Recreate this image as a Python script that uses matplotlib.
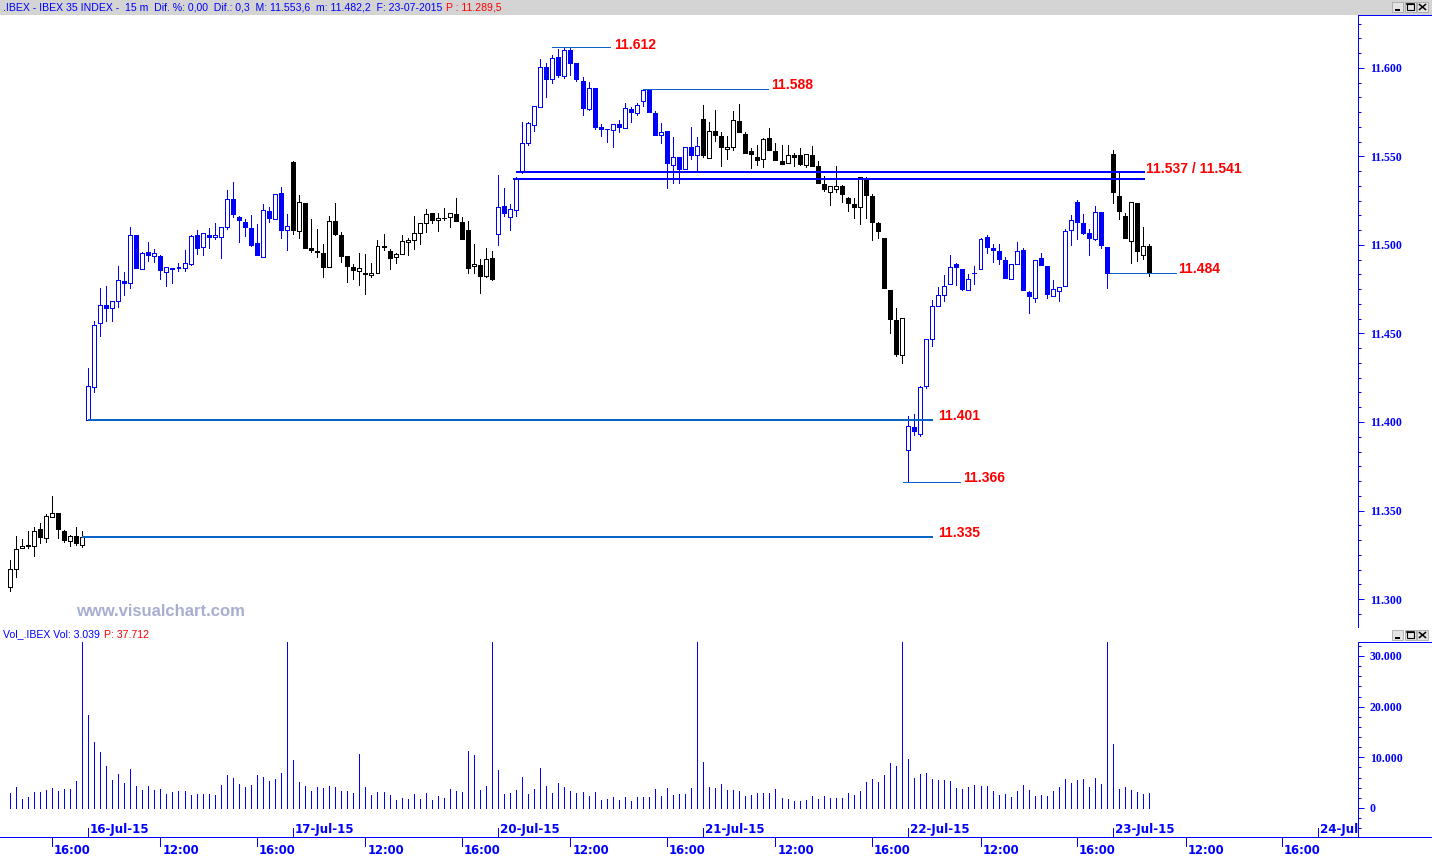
import matplotlib
matplotlib.use("Agg")
import matplotlib.pyplot as plt
import matplotlib.transforms as mtransforms
from matplotlib.lines import Line2D
from matplotlib.patches import Rectangle
from matplotlib.ticker import MultipleLocator

# ---------------- 15-minute IBEX 35 bars: (open, high, low, close) ----------------
jul15 = [
    (11306.6, 11322.0, 11304.7, 11316.7), (11316.7, 11335.6, 11312.6, 11328.0),
    (11328.6, 11333.7, 11328.6, 11329.7), (11330.8, 11338.4, 11328.6, 11330.1),
    (11329.7, 11340.5, 11324.1, 11338.2), (11339.3, 11342.7, 11331.4, 11334.8),
    (11334.2, 11347.8, 11332.0, 11346.7), (11346.1, 11358.2, 11346.1, 11348.4),
    (11348.4, 11348.4, 11334.2, 11339.3), (11338.2, 11338.8, 11332.0, 11333.1),
    (11332.5, 11335.9, 11329.7, 11335.4), (11335.4, 11340.5, 11330.3, 11331.4),
    (11330.3, 11338.2, 11329.2, 11335.0),
]
jul16 = [
    (11401.0, 11430.3, 11401.0, 11420.3), (11419.5, 11457.2, 11417.1, 11454.8),
    (11456.1, 11475.7, 11448.7, 11465.9), (11466.1, 11476.8, 11457.2, 11464.5),
    (11464.2, 11468.3, 11457.2, 11468.3), (11468.1, 11488.1, 11465.1, 11480.0),
    (11479.6, 11484.7, 11471.9, 11478.7), (11478.7, 11510.1, 11475.8, 11505.4),
    (11505.4, 11505.4, 11487.1, 11487.1), (11486.2, 11495.8, 11486.2, 11495.2),
    (11495.8, 11501.5, 11490.9, 11494.1), (11493.5, 11497.5, 11490.5, 11495.2),
    (11493.5, 11494.1, 11480.9, 11486.0), (11484.9, 11487.3, 11477.0, 11487.3),
    (11486.8, 11486.8, 11478.7, 11486.4), (11486.8, 11489.6, 11485.5, 11487.3),
    (11487.1, 11497.1, 11485.5, 11489.6), (11489.4, 11505.6, 11488.8, 11504.8),
    (11505.4, 11508.2, 11495.1, 11498.4), (11498.6, 11506.5, 11494.5, 11506.5),
    (11505.4, 11509.6, 11498.4, 11504.7), (11504.3, 11512.2, 11503.5, 11505.4),
    (11504.3, 11509.9, 11492.8, 11509.9), (11509.9, 11530.8, 11509.2, 11525.8),
    (11525.8, 11535.4, 11515.6, 11517.3), (11515.6, 11516.1, 11501.8, 11513.9),
    (11512.8, 11514.5, 11504.8, 11509.9), (11509.6, 11516.7, 11499.2, 11500.1),
    (11500.9, 11511.6, 11494.1, 11494.1), (11493.0, 11522.9, 11493.0, 11519.5),
    (11519.0, 11521.2, 11512.8, 11515.0), (11514.5, 11528.6, 11514.5, 11528.6),
    (11529.1, 11532.5, 11503.7, 11508.2), (11508.2, 11517.3, 11496.9, 11510.5),
]
jul17 = [
    (11546.8, 11547.5, 11506.0, 11508.2), (11507.7, 11528.0, 11503.7, 11524.1),
    (11523.5, 11523.5, 11498.4, 11498.4), (11498.1, 11514.5, 11496.2, 11497.1),
    (11496.6, 11508.8, 11493.0, 11496.0), (11495.2, 11500.5, 11482.1, 11487.7),
    (11487.3, 11516.1, 11487.3, 11513.3), (11513.3, 11523.5, 11505.4, 11506.0),
    (11505.4, 11507.1, 11490.5, 11493.5), (11493.5, 11493.5, 11479.2, 11487.9),
    (11487.3, 11489.0, 11480.9, 11485.6), (11485.1, 11495.2, 11477.5, 11486.8),
    (11483.9, 11494.7, 11472.5, 11483.4), (11482.8, 11489.6, 11482.1, 11483.9),
    (11483.9, 11502.6, 11483.9, 11499.2), (11499.2, 11506.0, 11497.1, 11498.6),
    (11496.4, 11497.5, 11486.6, 11492.4), (11493.0, 11495.2, 11489.6, 11494.7),
    (11494.7, 11505.4, 11494.7, 11502.0), (11501.5, 11503.7, 11494.1, 11502.6),
    (11502.6, 11516.1, 11497.5, 11506.5), (11506.5, 11512.2, 11500.3, 11512.2),
    (11512.2, 11520.1, 11507.1, 11517.3), (11517.8, 11517.8, 11512.2, 11513.9),
    (11513.9, 11517.8, 11507.7, 11515.0), (11515.0, 11520.7, 11513.9, 11515.2),
    (11515.6, 11517.8, 11509.9, 11517.8), (11517.3, 11526.3, 11513.3, 11513.3),
    (11512.8, 11515.6, 11503.1, 11503.1), (11508.2, 11513.3, 11483.9, 11486.8),
    (11487.9, 11500.3, 11483.9, 11489.0), (11488.5, 11491.9, 11473.0, 11482.3),
    (11482.3, 11498.1, 11481.7, 11491.9), (11492.4, 11496.4, 11480.4, 11480.9),
]
jul20 = [
    (11506.0, 11539.5, 11500.2, 11521.3), (11522.0, 11532.2, 11516.6, 11517.9),
    (11515.6, 11523.1, 11508.6, 11520.1), (11519.6, 11538.2, 11516.6, 11537.0),
    (11541.0, 11569.5, 11540.5, 11557.4), (11557.4, 11569.5, 11556.3, 11568.7),
    (11567.6, 11578.3, 11564.6, 11578.3), (11577.8, 11605.3, 11577.8, 11600.4),
    (11600.4, 11602.6, 11583.4, 11593.6), (11593.6, 11607.1, 11591.3, 11605.4),
    (11606.0, 11610.5, 11594.7, 11595.8), (11595.3, 11611.1, 11594.1, 11610.0),
    (11610.0, 11612.0, 11595.8, 11603.0), (11602.6, 11602.6, 11592.4, 11593.6),
    (11592.4, 11594.7, 11573.2, 11577.2), (11576.6, 11591.9, 11576.1, 11588.5),
    (11588.5, 11588.5, 11565.7, 11566.8), (11566.5, 11568.2, 11561.8, 11565.7),
    (11565.5, 11565.7, 11558.4, 11565.3), (11565.2, 11568.2, 11555.5, 11568.2),
    (11568.2, 11570.4, 11564.0, 11566.8), (11566.3, 11580.0, 11566.3, 11577.2),
    (11576.6, 11577.8, 11569.7, 11574.9), (11574.4, 11580.0, 11573.2, 11578.9),
    (11581.1, 11588.0, 11578.3, 11587.5), (11587.5, 11588.0, 11574.9, 11574.9),
    (11574.4, 11575.5, 11562.3, 11562.3), (11561.9, 11568.7, 11557.4, 11563.6),
    (11564.2, 11564.2, 11532.4, 11546.5), (11545.4, 11560.8, 11535.2, 11549.5),
    (11549.5, 11549.5, 11535.2, 11543.1), (11543.1, 11555.2, 11543.1, 11555.2),
    (11555.2, 11566.5, 11548.4, 11551.0), (11550.6, 11560.8, 11542.0, 11555.7),
]
jul21 = [
    (11571.0, 11578.9, 11549.5, 11550.6), (11549.0, 11569.3, 11549.0, 11564.2),
    (11564.2, 11576.1, 11558.6, 11562.3), (11561.4, 11563.6, 11544.4, 11555.2),
    (11554.0, 11561.4, 11548.4, 11555.3), (11555.2, 11575.5, 11553.5, 11570.4),
    (11569.8, 11579.5, 11563.6, 11563.6), (11562.5, 11563.6, 11551.8, 11551.8),
    (11552.9, 11554.6, 11543.3, 11551.2), (11549.5, 11556.3, 11545.0, 11547.8),
    (11548.4, 11560.2, 11544.2, 11559.7), (11560.2, 11565.9, 11553.5, 11553.5),
    (11552.9, 11557.4, 11547.8, 11547.8), (11547.2, 11556.3, 11545.6, 11545.6),
    (11546.1, 11556.3, 11546.1, 11550.6), (11550.6, 11551.8, 11544.4, 11549.5),
    (11550.6, 11554.6, 11545.0, 11545.6), (11545.0, 11551.2, 11543.9, 11551.2),
    (11550.6, 11555.7, 11544.4, 11544.4), (11544.4, 11547.2, 11534.8, 11534.8),
    (11534.3, 11538.8, 11530.3, 11531.4), (11529.7, 11533.1, 11522.8, 11533.1),
    (11531.4, 11544.4, 11529.7, 11533.1), (11533.1, 11533.7, 11524.1, 11528.6),
    (11526.3, 11526.9, 11519.0, 11523.5), (11523.0, 11526.3, 11515.0, 11521.3),
    (11521.3, 11538.2, 11511.7, 11538.2), (11537.6, 11538.2, 11515.0, 11528.0),
    (11527.5, 11528.6, 11502.6, 11512.8), (11512.2, 11512.8, 11503.7, 11507.7),
    (11503.7, 11503.7, 11475.5, 11475.5), (11474.4, 11474.4, 11450.1, 11458.0),
    (11457.4, 11464.2, 11437.1, 11438.2), (11437.7, 11458.5, 11433.1, 11458.5),
]
jul22 = [
    (11384.0, 11403.4, 11366.0, 11397.7), (11396.9, 11404.5, 11392.4, 11394.7),
    (11393.0, 11420.1, 11391.9, 11419.6), (11420.1, 11446.7, 11419.0, 11446.7),
    (11446.7, 11468.7, 11442.7, 11465.3), (11465.3, 11476.1, 11465.3, 11471.5),
    (11471.5, 11482.8, 11468.1, 11476.6), (11477.8, 11494.1, 11477.8, 11487.4),
    (11489.1, 11489.6, 11477.2, 11487.4), (11486.2, 11486.2, 11474.4, 11474.9),
    (11474.4, 11483.4, 11474.4, 11480.6), (11484.0, 11487.9, 11477.8, 11484.2),
    (11486.2, 11503.7, 11486.2, 11503.2), (11504.3, 11505.4, 11495.3, 11498.7),
    (11498.1, 11500.4, 11490.2, 11497.0), (11496.4, 11500.4, 11489.1, 11491.9),
    (11491.3, 11493.0, 11481.1, 11481.1), (11480.6, 11489.1, 11480.6, 11489.1),
    (11489.1, 11501.5, 11489.1, 11496.4), (11497.0, 11498.1, 11474.4, 11474.4),
    (11473.2, 11473.8, 11461.4, 11471.0), (11469.8, 11491.3, 11467.6, 11491.3),
    (11492.4, 11495.3, 11488.5, 11488.5), (11487.9, 11487.9, 11469.8, 11472.1),
    (11471.0, 11480.0, 11471.0, 11474.9), (11473.8, 11476.1, 11468.1, 11476.1),
    (11476.6, 11508.8, 11476.6, 11507.7), (11508.3, 11516.7, 11499.8, 11513.9),
    (11524.1, 11525.2, 11503.2, 11512.8), (11512.2, 11517.3, 11506.0, 11506.6),
    (11506.6, 11508.8, 11494.1, 11503.7), (11503.2, 11521.8, 11502.6, 11518.4),
    (11518.4, 11518.4, 11498.1, 11499.8), (11498.7, 11498.7, 11475.5, 11484.0),
]
jul23 = [
    (11551.2, 11553.6, 11523.5, 11529.7), (11527.5, 11540.5, 11514.5, 11519.0),
    (11516.2, 11517.9, 11503.7, 11503.7), (11502.0, 11524.1, 11489.6, 11524.1),
    (11523.5, 11523.5, 11490.7, 11496.4), (11494.1, 11510.0, 11491.9, 11499.2),
    (11499.2, 11500.4, 11482.2, 11484.3),
]

# ---------------- volume per bar (contracts) ----------------
vol15 = [3010, 4190, 1830, 2230, 3210, 3210, 3600, 4000, 3410, 3800, 3800, 5370, 42000]
vol16 = [18340, 13030, 11070, 8320, 5570, 6750, 4980, 7730, 4390, 3600,
         4390, 3600, 3800, 2820, 3210, 3410, 3410, 2620, 2820, 2820,
         2820, 2620, 4590, 6550, 5960, 4780, 4190, 4590, 6550, 6160,
         5370, 5760, 6940, 42000]
vol17 = [9500, 5170, 4390, 3410, 4190, 4000, 4390, 4190, 3410, 3410,
         3010, 10680, 4190, 2620, 3210, 3210, 2620, 1640, 2030, 1830,
         2820, 1830, 3010, 1640, 2420, 2030, 3800, 3410, 3210, 11270,
         10480, 3600, 4390, 42000]
vol20 = [7530, 2820, 3010, 3600, 6160, 2820, 3800, 7930, 4390, 3010,
         4980, 4190, 3410, 3010, 3210, 2420, 3210, 1640, 1830, 2230,
         1640, 2230, 1440, 2230, 2230, 2230, 3800, 2420, 4000, 2620,
         2820, 2820, 4000, 42000]
vol21 = [9100, 4190, 4000, 4780, 3600, 3600, 3410, 2420, 2620, 3010,
         3010, 3010, 3800, 2030, 1830, 1440, 1440, 1640, 2420, 1830,
         2420, 2030, 2030, 2030, 3010, 2620, 3410, 5170, 5760, 5170,
         6550, 8910, 8320, 42000]
vol22 = [9690, 5960, 6750, 6940, 5760, 5570, 5570, 5370, 4000, 3800,
         4190, 4590, 4390, 4390, 3410, 2620, 2820, 2230, 3410, 4590,
         3600, 2420, 2620, 2420, 3410, 4190, 5760, 4980, 5570, 5760,
         4190, 5960, 4780, 42000]
vol23 = [12640, 3800, 4190, 3600, 3210, 2820, 3039]

# ---------------- axis labels ----------------
date_labels = ["16-Jul-15", "17-Jul-15", "20-Jul-15", "21-Jul-15",
               "22-Jul-15", "23-Jul-15", "24-Jul-15"]
hour_labels = ["12:00", "16:00"]
price_ticks = [11300, 11350, 11400, 11450, 11500, 11550, 11600]
volume_ticks = [0, 10000, 20000, 30000]
level_values = [11612, 11588, 11541, 11537, 11484, 11401, 11366, 11335]

header_text = ".IBEX - IBEX 35 INDEX -  15 m  Dif. %: 0,00  Dif.: 0,3  M: 11.553,6  m: 11.482,2  F: 23-07-2015"
header_price = "P : 11.289,5"
vol_header_text = "Vol_.IBEX Vol: 3.039"
vol_header_price = "P: 37.712"

# ---------------- layout ----------------
W, H, DPI = 1432, 857, 100
BLUE = "#0000ff"
LEVEL = "#0a64c8"
RED = "#ff0000"
PX = 72 / DPI  # one pixel in points
BARS_PER_SESSION = 34
XLIM = (-14.6, 210.6)

fig = plt.figure(figsize=(W / DPI, H / DPI), dpi=DPI, facecolor="white")


def frame(x0, y0, x1, y1):
    return [x0 / W, 1 - y1 / H, (x1 - x0) / W, (y1 - y0) / H]


ax = fig.add_axes(frame(0, 15, 1358, 627))
axv = fig.add_axes(frame(0, 642, 1358, 837))
over = fig.add_axes([0, 0, 1, 1], zorder=5)
over.set_xlim(0, W)
over.set_ylim(H, 0)
over.axis("off")
over.patch.set_alpha(0)

# ---------------- candles and volume ----------------
days = [jul15, jul16, jul17, jul20, jul21, jul22, jul23]
vols = [vol15, vol16, vol17, vol20, vol21, vol22, vol23]
day_colors = ["#000000", BLUE, "#000000", BLUE, "#000000", BLUE, "#000000"]

for d, (bars, vv) in enumerate(zip(days, vols)):
    start = (d - 1) * BARS_PER_SESSION
    if d == 0:
        start = -len(bars)
    xs = [start + i for i in range(len(bars))]
    col = day_colors[d]
    o = [b[0] for b in bars]
    h = [b[1] for b in bars]
    l = [b[2] for b in bars]
    c = [b[3] for b in bars]
    ax.vlines(xs, l, h, color=col, lw=PX, zorder=2, antialiased=False)
    bottoms = [min(a, b) for a, b in zip(o, c)]
    heights = [max(abs(a - b), 0.4) for a, b in zip(o, c)]
    faces = ["white" if cc >= oo else col for oo, cc in zip(o, c)]
    ax.bar(xs, heights, width=0.66, bottom=bottoms, color=faces, edgecolor=col,
           linewidth=PX, zorder=3, antialiased=False)
    axv.vlines(xs, 0, vv, color=BLUE, lw=PX, antialiased=False)

# ---------------- support / resistance levels ----------------
def level(y, x0, x1, lw, color):
    ax.plot([x0, x1], [y, y], color=color, lw=lw, zorder=4, solid_capstyle="butt",
            antialiased=False)


def level_label(x, y, text, dy=4):
    ax.annotate(text, xy=(x, y), xytext=(0, dy), textcoords="offset pixels",
                ha="left", va="center", color=RED, fontsize=10,
                fontweight="bold", family="Liberation Sans", zorder=6)


level(level_values[0], 77.0, 86.6, PX, LEVEL)
level_label(87.2, level_values[0], "11.612", dy=2)
level(level_values[1], 92.0, 112.7, PX, LEVEL)
level_label(113.2, level_values[1], "11.588")
level(level_values[2], 71.0, 175.3, 2 * PX, BLUE)
level(level_values[3], 70.4, 175.3, 2 * PX, BLUE)
level_label(175.4, level_values[2], "11.537 / 11.541", dy=3)
level(level_values[4], 169.5, 180.4, PX, LEVEL)
level_label(180.7, level_values[4], "11.484")
level(level_values[5], 0.0, 140.1, 2 * PX, LEVEL)
level_label(141.0, level_values[5], "11.401")
level(level_values[6], 135.2, 144.6, PX, LEVEL)
level_label(145.1, level_values[6], "11.366")
level(level_values[7], -1.0, 140.1, 2 * PX, LEVEL)
level_label(141.0, level_values[7], "11.335")

# ---------------- price axis ----------------
ax.set_xlim(*XLIM)
ax.set_ylim(11284.2, 11629.9)
for s in ("top", "left", "bottom"):
    ax.spines[s].set_visible(False)
ax.spines["right"].set_color(BLUE)
ax.spines["right"].set_linewidth(PX)
ax.yaxis.tick_right()
ax.set_yticks(price_ticks, [f"{v / 1000:.3f}" for v in price_ticks],
              fontsize=8.5, fontweight="bold", family="Liberation Serif")
ax.yaxis.set_minor_locator(MultipleLocator(50 / 6))
ax.tick_params(axis="y", which="major", direction="out", length=4.5, width=PX,
               color=BLUE, labelcolor=BLUE, pad=4)
ax.tick_params(axis="y", which="minor", direction="out", length=2.4, width=PX, color=BLUE)
ax.tick_params(axis="x", which="both", bottom=False, labelbottom=False)

# ---------------- volume axis ----------------
axv.set_xlim(*XLIM)
axv.set_ylim(-5724, 32763)
for s in ("top", "left", "bottom"):
    axv.spines[s].set_visible(False)
axv.spines["right"].set_color(BLUE)
axv.spines["right"].set_linewidth(PX)
axv.yaxis.tick_right()
axv.set_yticks(volume_ticks, ["0" if v == 0 else f"{v / 1000:.3f}" for v in volume_ticks],
               fontsize=8.5, fontweight="bold", family="Liberation Serif")
axv.yaxis.set_minor_locator(MultipleLocator(2000))
axv.tick_params(axis="y", which="major", direction="out", length=4.5, width=PX,
                color=BLUE, labelcolor=BLUE, pad=4)
axv.tick_params(axis="y", which="minor", direction="out", length=2.4, width=PX, color=BLUE)
axv.tick_params(axis="x", which="both", bottom=False, labelbottom=False)

# time axis: session dates above the base line, hours below it
blend = mtransforms.blended_transform_factory(axv.transData, axv.transAxes)
shift = mtransforms.ScaledTranslation(2 / DPI, 0, fig.dpi_scale_trans)
vh = 837 - 642
session_starts = [(i - 1) * BARS_PER_SESSION for i in range(len(date_labels) + 1)]
for s in session_starts:
    for off, lab in zip((12, 28), hour_labels):
        x = s + off
        if XLIM[0] < x < XLIM[1]:
            axv.add_line(Line2D([x, x], [0, -9 / vh], transform=blend, color=BLUE,
                                lw=PX, clip_on=False, antialiased=False))
            axv.text(x, -14 / vh, lab, transform=blend + shift, ha="left", va="center",
                     color=BLUE, fontsize=8.4, fontweight="bold", family="DejaVu Sans",
                     clip_on=False)
for i, lab in enumerate(date_labels):
    x = i * BARS_PER_SESSION
    axv.add_line(Line2D([x, x], [0, 9 / vh], transform=blend, color=BLUE, lw=PX,
                        antialiased=False))
    axv.text(x, 7 / vh, lab, transform=blend + shift, ha="left", va="center",
             color=BLUE, fontsize=8.6, fontweight="bold", family="DejaVu Sans",
             clip_on=True)

# ---------------- window frame decorations ----------------
over.add_patch(Rectangle((0, 0), W, 14.5, facecolor="#d4d4d4", edgecolor="none"))
over.plot([0, W], [837, 837], color=BLUE, lw=PX, solid_capstyle="butt", antialiased=False)
over.plot([1358, W], [15, 15], color=BLUE, lw=PX, solid_capstyle="butt", antialiased=False)
over.plot([1358, W], [642, 642], color=BLUE, lw=PX, solid_capstyle="butt", antialiased=False)


def window_buttons(y0):
    for bx in (1392, 1404.5, 1417):
        over.add_patch(Rectangle((bx, y0), 11, 10, facecolor="#e4e4e4",
                                 edgecolor="#9a9a9a", lw=0.5))
    over.plot([1394.5, 1400], [y0 + 8, y0 + 8], color="black", lw=1.4, solid_capstyle="butt")
    over.add_patch(Rectangle((1406.5, y0 + 2), 7, 6, facecolor="none", edgecolor="black", lw=0.8))
    over.plot([1406.5, 1413.5], [y0 + 2.3, y0 + 2.3], color="black", lw=1.2)
    over.plot([1419.5, 1425.5], [y0 + 2.5, y0 + 7.5], color="black", lw=1.1)
    over.plot([1419.5, 1425.5], [y0 + 7.5, y0 + 2.5], color="black", lw=1.1)


window_buttons(2)
window_buttons(630)

t_head = over.text(3, 7.5, header_text, ha="left", va="center", color=BLUE,
                   fontsize=7.6, family="Liberation Sans")
over.annotate(header_price, xy=(1, 0.5), xycoords=t_head, xytext=(4, 0),
              textcoords="offset pixels", ha="left", va="center", color=RED,
              fontsize=7.6, family="Liberation Sans")
t_vol = over.text(3, 634.5, vol_header_text, ha="left", va="center", color=BLUE,
                  fontsize=7.6, family="Liberation Sans")
over.annotate(vol_header_price, xy=(1, 0.5), xycoords=t_vol, xytext=(4, 0),
              textcoords="offset pixels", ha="left", va="center", color=RED,
              fontsize=7.6, family="Liberation Sans")

over.text(160, 611, "www.visualchart.com", ha="center", va="center",
          color="#a7aed0", fontsize=12, fontweight="bold", family="Liberation Sans")

fig.savefig("out.png", dpi=DPI, facecolor="white")
